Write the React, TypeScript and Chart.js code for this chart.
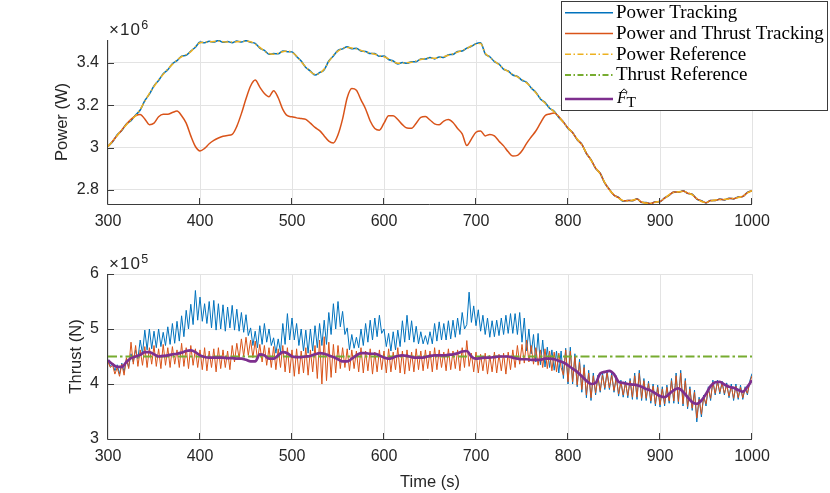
import React, { useEffect, useRef } from 'react';
import { Chart, registerables } from 'chart.js';

Chart.register(...registerables);

// MATLAB default colour order
const BLUE = '#0072BD';
const ORANGE = '#D95319';
const YELLOW = '#EDB120';
const PURPLE = '#7E2F8E';
const GREEN = '#77AC30';
const TEXT = '#262626';
const GRID = '#e3e3e3';

// sample times: 5 s for the slow signals, 2.5 s for the noisy thrust traces
const tCoarse = Array.from({ length: 141 }, (_, i) => 300 + i * 5);
const tFine = Array.from({ length: 281 }, (_, i) => 300 + i * 2.5);

const timeTicks = [300, 400, 500, 600, 700, 800, 900, 1000];
const timeTickLabels = ['300', '400', '500', '600', '700', '800', '900', '1000'];
const powerTicks = [2.8, 3, 3.2, 3.4];
const powerTickLabels = ['2.8', '3', '3.2', '3.4'];
const thrustTicks = [3, 4, 5, 6];
const thrustTickLabels = ['3', '4', '5', '6'];

const legendLabels = ['Power Tracking', 'Power and Thrust Tracking', 'Power Reference', 'Thrust Reference'];

// power (x1e6 W)
const powerReference = [
  3.005, 3.030, 3.057, 3.083, 3.108, 3.130, 3.150, 3.180, 3.218, 3.255,
  3.288, 3.319, 3.345, 3.370, 3.392, 3.413, 3.428, 3.438, 3.452, 3.476,
  3.494, 3.497, 3.498, 3.500, 3.501, 3.499, 3.497, 3.497, 3.499, 3.500,
  3.501, 3.499, 3.488, 3.472, 3.455, 3.443, 3.440, 3.445, 3.452, 3.455,
  3.448, 3.432, 3.405, 3.380, 3.358, 3.345, 3.350, 3.370, 3.405, 3.435,
  3.455, 3.468, 3.472, 3.469, 3.465, 3.458, 3.450, 3.446, 3.440, 3.433,
  3.428, 3.418, 3.405, 3.397, 3.398, 3.400, 3.402, 3.408, 3.415, 3.420,
  3.422, 3.421, 3.424, 3.428, 3.435, 3.442, 3.450, 3.458, 3.466, 3.480,
  3.487, 3.491, 3.445, 3.425, 3.408, 3.390, 3.372, 3.358, 3.345, 3.333,
  3.320, 3.305, 3.284, 3.258, 3.232, 3.210, 3.188, 3.168, 3.145, 3.118,
  3.093, 3.068, 3.040, 3.013, 2.975, 2.940, 2.905, 2.876, 2.835, 2.800,
  2.778, 2.762, 2.750, 2.748, 2.752, 2.756, 2.744, 2.738, 2.737, 2.742,
  2.748, 2.760, 2.778, 2.788, 2.792, 2.793, 2.787, 2.777, 2.760, 2.746,
  2.742, 2.748, 2.753, 2.754, 2.756, 2.758, 2.761, 2.764, 2.772, 2.786,
  2.797,
];
const powerPT = [
  3.006, 3.027, 3.060, 3.080, 3.111, 3.127, 3.153, 3.177, 3.221, 3.252,
  3.291, 3.316, 3.348, 3.367, 3.395, 3.410, 3.431, 3.435, 3.455, 3.473,
  3.497, 3.494, 3.501, 3.497, 3.505, 3.496, 3.500, 3.494, 3.502, 3.497,
  3.504, 3.496, 3.491, 3.469, 3.458, 3.440, 3.443, 3.442, 3.455, 3.452,
  3.451, 3.429, 3.408, 3.377, 3.361, 3.342, 3.353, 3.367, 3.408, 3.432,
  3.458, 3.465, 3.475, 3.466, 3.468, 3.455, 3.453, 3.443, 3.443, 3.430,
  3.431, 3.415, 3.408, 3.394, 3.401, 3.397, 3.405, 3.405, 3.418, 3.417,
  3.425, 3.418, 3.427, 3.425, 3.438, 3.439, 3.453, 3.455, 3.469, 3.477,
  3.490, 3.494, 3.442, 3.428, 3.405, 3.393, 3.369, 3.361, 3.342, 3.336,
  3.317, 3.308, 3.281, 3.261, 3.229, 3.213, 3.185, 3.171, 3.142, 3.121,
  3.090, 3.071, 3.037, 3.016, 2.972, 2.943, 2.902, 2.879, 2.832, 2.803,
  2.775, 2.765, 2.747, 2.751, 2.749, 2.759, 2.741, 2.741, 2.735, 2.745,
  2.745, 2.763, 2.775, 2.791, 2.789, 2.796, 2.784, 2.780, 2.757, 2.749,
  2.739, 2.751, 2.750, 2.757, 2.753, 2.761, 2.758, 2.767, 2.769, 2.789,
  2.796,
];
const powerPTT = [
  3.005, 3.030, 3.057, 3.083, 3.110, 3.133, 3.150, 3.156, 3.135, 3.108,
  3.115, 3.145, 3.157, 3.157, 3.165, 3.172, 3.150, 3.115, 3.055, 3.005,
  2.984, 2.996, 3.018, 3.034, 3.045, 3.053, 3.057, 3.062, 3.100, 3.160,
  3.230, 3.290, 3.318, 3.285, 3.255, 3.240, 3.268, 3.235, 3.180, 3.150,
  3.145, 3.140, 3.137, 3.133, 3.115, 3.095, 3.080, 3.055, 3.030, 3.022,
  3.060, 3.135, 3.235, 3.278, 3.270, 3.225, 3.182, 3.125, 3.090, 3.082,
  3.115, 3.150, 3.150, 3.132, 3.108, 3.092, 3.091, 3.115, 3.142, 3.146,
  3.130, 3.112, 3.107, 3.125, 3.132, 3.118, 3.090, 3.065, 3.010, 3.040,
  3.072, 3.078, 3.055, 3.062, 3.055, 3.030, 3.008, 2.980, 2.960, 2.963,
  2.985, 3.020, 3.050, 3.078, 3.115, 3.150, 3.158, 3.163, 3.146, 3.120,
  3.092, 3.070, 3.038, 3.015, 2.973, 2.942, 2.903, 2.878, 2.833, 2.802,
  2.776, 2.764, 2.749, 2.750, 2.750, 2.758, 2.742, 2.740, 2.736, 2.744,
  2.746, 2.762, 2.776, 2.790, 2.790, 2.795, 2.785, 2.779, 2.758, 2.748,
  2.740, 2.750, 2.751, 2.756, 2.754, 2.760, 2.759, 2.766, 2.770, 2.788,
  2.797,
];

// thrust (x1e5 N)
const thrustPT = [
  4.44, 4.32, 4.38, 4.24, 4.35, 4.18, 4.38, 4.22, 4.45, 4.30,
  4.55, 4.40, 4.62, 4.46, 4.80, 4.55, 4.98, 4.62, 5.00, 4.64,
  4.96, 4.66, 5.00, 4.68, 4.94, 4.70, 5.04, 4.72, 5.10, 4.74,
  5.14, 4.78, 5.24, 4.86, 5.34, 5.00, 5.45, 5.08, 5.70, 5.16,
  5.58, 5.14, 5.46, 5.10, 5.50, 5.02, 5.52, 4.98, 5.46, 5.00,
  5.44, 4.96, 5.40, 5.02, 5.43, 4.98, 5.36, 4.96, 5.30, 4.94,
  5.26, 4.88, 5.02, 4.70, 4.96, 4.66, 5.06, 4.72, 5.10, 4.76,
  5.00, 4.70, 4.84, 4.56, 4.82, 4.58, 5.10, 4.72, 5.28, 4.80,
  5.20, 4.80, 5.10, 4.70, 5.00, 4.60, 4.98, 4.56, 5.00, 4.60,
  5.06, 4.66, 5.10, 4.70, 5.16, 4.72, 5.30, 4.90, 5.46, 5.00,
  5.50, 5.04, 5.32, 4.90, 5.02, 4.62, 4.90, 4.65, 4.85, 4.66,
  5.00, 4.70, 5.10, 4.76, 5.16, 4.80, 5.20, 4.86, 5.25, 4.92,
  5.00, 4.68, 4.92, 4.60, 4.95, 4.62, 4.98, 4.68, 5.15, 4.76,
  5.25, 4.80, 5.15, 4.76, 5.05, 4.73, 4.95, 4.73, 4.88, 4.72,
  4.95, 4.73, 5.10, 4.78, 5.13, 4.80, 5.10, 4.80, 5.15, 4.82,
  5.16, 4.85, 5.20, 4.90, 5.30, 5.00, 5.08, 5.67, 5.12, 5.42,
  5.06, 5.35, 4.96, 5.25, 4.90, 5.20, 4.85, 5.15, 4.86, 5.16,
  4.88, 5.20, 4.90, 5.25, 4.92, 5.28, 4.92, 5.28, 4.90, 5.30,
  4.76, 5.20, 4.60, 5.00, 4.55, 4.90, 4.40, 4.92, 4.35, 4.80,
  4.31, 4.67, 4.30, 4.62, 4.25, 4.60, 4.20, 4.60, 4.10, 4.65,
  4.00, 4.67, 4.00, 4.55, 3.95, 4.45, 3.85, 4.35, 3.75, 4.25,
  3.70, 4.20, 3.80, 4.16, 3.85, 4.20, 3.90, 4.25, 3.90, 4.20,
  3.85, 4.15, 3.78, 4.07, 3.76, 4.05, 3.75, 4.10, 3.72, 4.20,
  3.72, 4.25, 3.70, 4.10, 3.70, 4.05, 3.65, 4.00, 3.60, 3.98,
  3.58, 3.95, 3.60, 3.98, 3.65, 4.10, 3.65, 4.20, 3.64, 4.25,
  3.60, 4.10, 3.55, 3.95, 3.52, 3.89, 3.31, 3.76, 3.40, 3.80,
  3.60, 3.95, 3.70, 4.07, 3.80, 4.07, 3.82, 4.05, 3.80, 4.02,
  3.75, 4.00, 3.70, 4.00, 3.72, 3.98, 3.72, 3.95, 3.80, 4.05,
  4.19,
];
const thrustPTT = [
  4.40, 4.30, 4.34, 4.18, 4.30, 4.14, 4.36, 4.16, 4.48, 4.28,
  4.76, 4.36, 4.70, 4.32, 4.62, 4.34, 4.68, 4.30, 4.66, 4.36,
  4.70, 4.32, 4.64, 4.28, 4.72, 4.34, 4.66, 4.30, 4.68, 4.36,
  4.62, 4.30, 4.74, 4.32, 4.66, 4.28, 4.70, 4.34, 4.64, 4.30,
  4.62, 4.26, 4.66, 4.24, 4.60, 4.30, 4.64, 4.22, 4.66, 4.28,
  4.62, 4.30, 4.60, 4.26, 4.70, 4.40, 4.74, 4.46, 4.82, 4.50,
  4.85, 4.52, 4.80, 4.48, 4.78, 4.44, 4.72, 4.40, 4.70, 4.34,
  4.66, 4.30, 4.68, 4.26, 4.64, 4.30, 4.70, 4.22, 4.66, 4.20,
  4.62, 4.14, 4.64, 4.18, 4.60, 4.20, 4.66, 4.16, 4.62, 4.22,
  4.70, 4.10, 4.80, 4.00, 4.86, 4.06, 4.76, 4.12, 4.72, 4.20,
  4.70, 4.28, 4.66, 4.30, 4.64, 4.24, 4.62, 4.28, 4.60, 4.22,
  4.66, 4.20, 4.60, 4.24, 4.64, 4.18, 4.58, 4.22, 4.62, 4.26,
  4.60, 4.20, 4.64, 4.22, 4.58, 4.26, 4.66, 4.20, 4.60, 4.18,
  4.62, 4.24, 4.58, 4.22, 4.64, 4.26, 4.60, 4.24, 4.62, 4.28,
  4.60, 4.22, 4.66, 4.26, 4.62, 4.30, 4.58, 4.24, 4.64, 4.26,
  4.60, 4.28, 4.62, 4.24, 4.66, 4.30, 4.79, 4.32, 4.56, 4.22,
  4.58, 4.20, 4.54, 4.24, 4.56, 4.18, 4.52, 4.22, 4.58, 4.20,
  4.54, 4.24, 4.56, 4.18, 4.58, 4.26, 4.62, 4.30, 4.70, 4.36,
  4.72, 4.38, 4.80, 4.40, 4.70, 4.36, 4.66, 4.34, 4.62, 4.30,
  4.64, 4.28, 4.60, 4.24, 4.58, 4.22, 4.56, 4.30, 4.16, 4.62,
  4.04, 4.60, 4.04, 4.50, 3.98, 4.40, 3.90, 4.30, 3.80, 4.20,
  3.75, 4.15, 3.84, 4.12, 3.88, 4.16, 3.93, 4.20, 3.93, 4.16,
  3.88, 4.11, 3.82, 4.04, 3.80, 4.02, 3.79, 4.06, 3.76, 4.15,
  3.76, 4.20, 3.74, 4.06, 3.74, 4.01, 3.69, 3.96, 3.64, 3.94,
  3.62, 3.91, 3.64, 3.94, 3.69, 4.06, 3.69, 4.15, 3.68, 4.20,
  3.64, 4.06, 3.59, 3.91, 3.56, 3.85, 3.38, 3.72, 3.45, 3.76,
  3.64, 3.91, 3.74, 4.03, 3.83, 4.03, 3.85, 4.01, 3.83, 3.98,
  3.78, 3.96, 3.74, 3.96, 3.75, 3.94, 3.75, 3.92, 3.83, 4.02,
  4.15,
];
const thrustEstimate = [
  4.43, 4.36, 4.31, 4.31, 4.40, 4.47, 4.50, 4.53, 4.58, 4.58,
  4.54, 4.50, 4.51, 4.52, 4.54, 4.55, 4.57, 4.60, 4.61, 4.58,
  4.52, 4.49, 4.48, 4.48, 4.48, 4.48, 4.47, 4.47, 4.46, 4.46,
  4.44, 4.41, 4.41, 4.54, 4.52, 4.46, 4.46, 4.52, 4.58, 4.56,
  4.50, 4.49, 4.49, 4.50, 4.51, 4.54, 4.56, 4.55, 4.52, 4.49,
  4.45, 4.41, 4.41, 4.46, 4.52, 4.56, 4.56, 4.55, 4.55, 4.52,
  4.48, 4.46, 4.48, 4.51, 4.52, 4.51, 4.49, 4.48, 4.48, 4.49,
  4.51, 4.52, 4.52, 4.52, 4.53, 4.54, 4.56, 4.59, 4.60, 4.50,
  4.46, 4.47, 4.48, 4.48, 4.49, 4.50, 4.50, 4.50, 4.48, 4.46,
  4.45, 4.45, 4.44, 4.44, 4.44, 4.46, 4.46, 4.45, 4.42, 4.39,
  4.34, 4.28, 4.22, 4.14, 4.06, 4.00, 4.02, 4.19, 4.22, 4.24,
  4.18, 4.04, 4.02, 4.00, 3.99, 3.98, 3.95, 3.91, 3.88, 3.83,
  3.78, 3.76, 3.82, 3.89, 3.92, 3.86, 3.76, 3.67, 3.64, 3.70,
  3.82, 3.96, 4.03, 4.04, 3.99, 3.95, 3.93, 3.89, 3.86, 3.95,
  4.07,
];
const thrustRefTimes = [300, 1000];
const thrustReference = [4.5, 4.5];

const pts = (xs: number[], ys: number[]) => xs.map((x, i) => ({ x, y: ys[i] }));

const tickFont = { family: 'Liberation Sans', size: 16 };
const titleFont = { family: 'Liberation Sans', size: 16.5 };

// left/bottom axis lines with inward ticks, plus the x10^n multiplier
const axesFrame = {
  id: 'axesFrame',
  afterDatasetsDraw(chart: any, _args: any, opts: any) {
    const { ctx, chartArea } = chart;
    const { left, right, top, bottom } = chartArea;
    const xs = chart.scales.x;
    const ys = chart.scales.y;
    ctx.save();
    ctx.strokeStyle = '#3b3b3b';
    ctx.lineWidth = 1;
    ctx.beginPath();
    ctx.moveTo(left - 0.5, top);
    ctx.lineTo(left - 0.5, bottom + 0.5);
    ctx.lineTo(right, bottom + 0.5);
    xs.ticks.forEach((t: any) => {
      const px = Math.round(xs.getPixelForValue(t.value)) - 0.5;
      ctx.moveTo(px, bottom);
      ctx.lineTo(px, bottom - 6);
    });
    ys.ticks.forEach((t: any) => {
      const py = Math.round(ys.getPixelForValue(t.value)) + 0.5;
      ctx.moveTo(left, py);
      ctx.lineTo(left + 6, py);
    });
    ctx.stroke();

    ctx.fillStyle = TEXT;
    ctx.textBaseline = 'alphabetic';
    ctx.textAlign = 'left';
    ctx.font = '17px "Liberation Sans"';
    if ('letterSpacing' in ctx) ctx.letterSpacing = '1px';
    const base = top - 5;
    ctx.fillText('\u00d710', left + 1, base);
    const w = ctx.measureText('\u00d710').width;
    if ('letterSpacing' in ctx) ctx.letterSpacing = '0px';
    ctx.font = '12.5px "Liberation Sans"';
    ctx.fillText(opts.exponent, left + 1 + w + 0.5, top - 11);
    ctx.restore();
  },
};

// MATLAB-style legend box in the top-right corner
const legendBox = {
  id: 'legendBox',
  afterDraw(chart: any) {
    const { ctx } = chart;
    const styles = [
      { color: BLUE, dash: [], width: 1.5 },
      { color: ORANGE, dash: [], width: 1.5 },
      { color: YELLOW, dash: [6, 2.5, 1.5, 2.5], width: 1.5 },
      { color: GREEN, dash: [6, 2.5, 1.5, 2.5], width: 2 },
    ];
    const baselines = [18.3, 39, 59.7, 80.4];
    ctx.save();
    ctx.fillStyle = '#ffffff';
    ctx.fillRect(561, 1, 267, 110);
    ctx.strokeStyle = '#3b3b3b';
    ctx.lineWidth = 1;
    ctx.strokeRect(561.5, 1.5, 266, 109);

    ctx.font = '19px "Liberation Serif"';
    ctx.textBaseline = 'alphabetic';
    ctx.textAlign = 'left';
    legendLabels.forEach((label, i) => {
      const s = styles[i];
      const y = baselines[i] - 5.5;
      ctx.strokeStyle = s.color;
      ctx.lineWidth = s.width;
      ctx.setLineDash(s.dash);
      ctx.beginPath();
      ctx.moveTo(565, y);
      ctx.lineTo(613, y);
      ctx.stroke();
      ctx.fillStyle = '#000';
      ctx.fillText(label, 616, baselines[i]);
    });

    // F-hat with subscript T
    ctx.setLineDash([]);
    ctx.strokeStyle = PURPLE;
    ctx.lineWidth = 2.7;
    ctx.beginPath();
    ctx.moveTo(565, 99);
    ctx.lineTo(613, 99);
    ctx.stroke();
    ctx.fillStyle = '#000';
    ctx.font = 'italic 16px "Liberation Serif"';
    ctx.fillText('F', 617, 103.3);
    ctx.font = '15.5px "Liberation Serif"';
    ctx.fillText('T', 626.5, 107.3);
    ctx.strokeStyle = '#000';
    ctx.lineWidth = 0.9;
    ctx.beginPath();
    ctx.moveTo(620.8, 92.2);
    ctx.lineTo(624.1, 88.8);
    ctx.lineTo(627.4, 92.2);
    ctx.stroke();
    ctx.restore();
  },
};

const xAxis = (height: number, title?: string) => ({
  type: 'linear' as const,
  min: 300,
  max: 1000,
  afterBuildTicks: (s: any) => {
    s.ticks = timeTicks.map((v) => ({ value: v }));
  },
  afterFit: (s: any) => {
    s.height = height;
  },
  ticks: {
    autoSkip: false,
    maxRotation: 0,
    padding: 8,
    color: TEXT,
    font: tickFont,
    callback: (_v: any, i: number) => timeTickLabels[i],
  },
  grid: { color: GRID, lineWidth: 1, drawTicks: false },
  border: { display: false },
  title: title
    ? { display: true, text: title, color: TEXT, font: titleFont, padding: { top: 0, bottom: 1 } }
    : { display: false },
});

const yAxis = (min: number, max: number, ticks: number[], labels: string[], title: string, titlePad: number) => ({
  type: 'linear' as const,
  min,
  max,
  afterBuildTicks: (s: any) => {
    s.ticks = ticks.map((v) => ({ value: v }));
  },
  afterFit: (s: any) => {
    s.width = 108;
  },
  ticks: {
    padding: 9,
    color: TEXT,
    font: tickFont,
    callback: (_v: any, i: number) => labels[i],
  },
  grid: { color: GRID, lineWidth: 1, drawTicks: false },
  border: { display: false },
  title: { display: true, text: title, color: TEXT, font: titleFont, padding: { top: titlePad, bottom: 0 } },
});

const line = (data: any[], color: string, width: number, order: number, extra: any = {}) => ({
  data,
  borderColor: color,
  backgroundColor: color,
  borderWidth: width,
  pointRadius: 0,
  fill: false,
  order,
  ...extra,
});

const PowerChart: React.FC = () => {
  const ref = useRef<HTMLCanvasElement | null>(null);
  useEffect(() => {
    if (!ref.current) return;
    const chart = new Chart(ref.current, {
      type: 'line',
      data: {
        datasets: [
          line(pts(tCoarse, powerPT), BLUE, 1.5, 3, { cubicInterpolationMode: 'monotone' }),
          line(pts(tCoarse, powerPTT), ORANGE, 1.5, 2, { cubicInterpolationMode: 'monotone' }),
          line(pts(tCoarse, powerReference), YELLOW, 1.5, 1, {
            cubicInterpolationMode: 'monotone',
            borderDash: [6, 2.5, 1.5, 2.5],
          }),
        ],
      },
      options: {
        responsive: false,
        animation: false,
        layout: { padding: { left: 0, right: 78, top: 40, bottom: 0 } },
        scales: {
          x: xAxis(31),
          y: yAxis(2.734, 3.507, powerTicks, powerTickLabels, 'Power (W)', 53),
        },
        plugins: {
          legend: { display: false },
          tooltip: { enabled: false },
          axesFrame: { exponent: '6' },
        } as any,
      },
      plugins: [axesFrame, legendBox],
    });
    return () => chart.destroy();
  }, []);
  return <canvas ref={ref} width={830} height={235} style={{ display: 'block' }} />;
};

const ThrustChart: React.FC = () => {
  const ref = useRef<HTMLCanvasElement | null>(null);
  useEffect(() => {
    if (!ref.current) return;
    const chart = new Chart(ref.current, {
      type: 'line',
      data: {
        datasets: [
          line(pts(tFine, thrustPT), BLUE, 1, 4),
          line(pts(tFine, thrustPTT), ORANGE, 1, 3),
          line(pts(thrustRefTimes, thrustReference), GREEN, 2, 2, { borderDash: [9, 3, 2.5, 3] }),
          line(pts(tCoarse, thrustEstimate), PURPLE, 2.7, 1, { cubicInterpolationMode: 'monotone' }),
        ],
      },
      options: {
        responsive: false,
        animation: false,
        layout: { padding: { left: 0, right: 78, top: 39, bottom: 0 } },
        scales: {
          x: xAxis(54, 'Time (s)'),
          y: yAxis(3, 6, thrustTicks, thrustTickLabels, 'Thrust (N)', 67),
        },
        plugins: {
          legend: { display: false },
          tooltip: { enabled: false },
          axesFrame: { exponent: '5' },
        } as any,
      },
      plugins: [axesFrame],
    });
    return () => chart.destroy();
  }, []);
  return <canvas ref={ref} width={830} height={258} style={{ display: 'block' }} />;
};

export default function App() {
  return (
    <div style={{ position: 'fixed', left: 0, top: 0, width: 830, height: 493, background: '#fff' }}>
      <PowerChart />
      <ThrustChart />
    </div>
  );
}
